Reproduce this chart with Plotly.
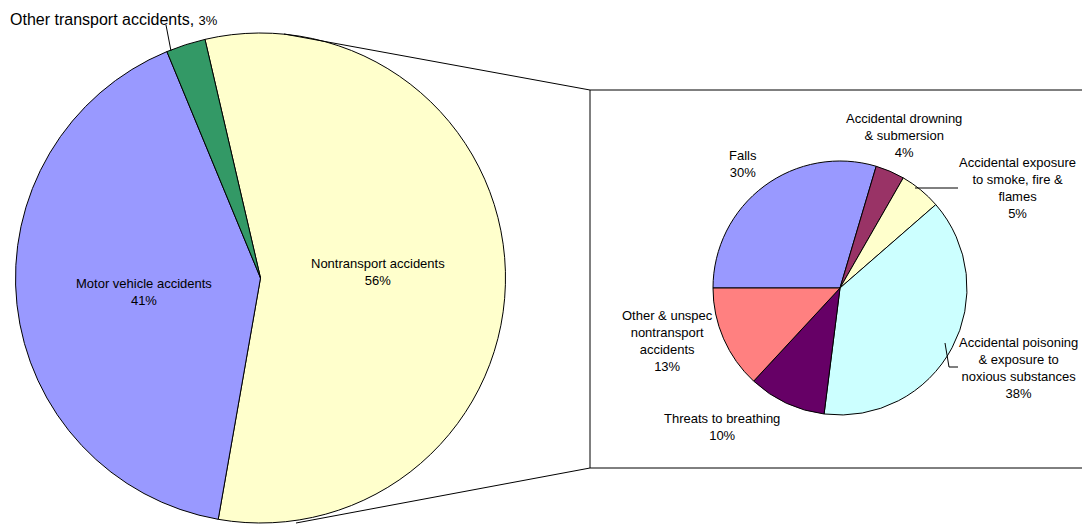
import plotly.graph_objects as go

# page body adds an 8px margin; the figure is sized so that it fills the window exactly
OFF = 8
W, H = 1090 - OFF, 525 - OFF

# ---- Data ----
main_labels = ["Nontransport accidents", "Motor vehicle accidents", "Other transport accidents"]
main_values = [56.4, 41.0, 2.6]
main_colors = ["#FFFFCC", "#9999FF", "#339966"]

sub_labels = ["Falls", "Accidental drowning & submersion", "Accidental exposure to smoke, fire & flames",
              "Accidental poisoning & exposure to noxious substances", "Threats to breathing",
              "Other & unspec nontransport accidents"]
sub_label_lines = [["Falls"], ["Accidental drowning", "& submersion"],
                   ["Accidental exposure", "to smoke, fire &", "flames"],
                   ["Accidental poisoning", "& exposure to", "noxious substances"],
                   ["Threats to breathing"], ["Other & unspec", "nontransport", "accidents"]]
sub_values = [29.6, 3.7, 5.3, 38.4, 9.9, 13.1]
sub_colors = ["#9999FF", "#993366", "#FFFFCC", "#CCFFFF", "#660066", "#FF8080"]


def px(x):
    return (x - OFF) / W


def py(y):
    return 1 - (y - OFF) / H


def pct(vals):
    s = sum(vals)
    return [f"{round(v / s * 100):.0f}%" for v in vals]


main_pct = pct(main_values)
sub_pct = pct(sub_values)

fig = go.Figure()
fig.add_trace(go.Pie(
    labels=main_labels, values=main_values, sort=False, direction="clockwise",
    rotation=-13.1, textinfo="none", hoverinfo="label+percent",
    marker=dict(colors=main_colors, line=dict(color="#000000", width=1)),
    domain=dict(x=[px(15.5), px(505.5)], y=[py(523), py(33)]),
    showlegend=False,
))
fig.add_trace(go.Pie(
    labels=sub_labels, values=sub_values, sort=False, direction="clockwise",
    rotation=270, textinfo="none", hoverinfo="label+percent",
    marker=dict(colors=sub_colors, line=dict(color="#000000", width=1)),
    domain=dict(x=[px(713), px(967)], y=[py(415), py(161)]),
    showlegend=False,
))

FAMILY = "Liberation Sans, Arial, sans-serif"
FONT = dict(family=FAMILY, size=13, color="#000000")
ann = []


def label(x, y, text, **kw):
    d = dict(x=px(x), y=py(y), xref="paper", yref="paper", text=text, showarrow=False,
             xanchor="center", yanchor="middle", font=FONT, align="center")
    d.update(kw)
    ann.append(d)


# main pie labels
label(378, 272, main_labels[0] + "<br>" + main_pct[0])
label(144, 292, main_labels[1] + "<br>" + main_pct[1])
label(8, 20, f"{main_labels[2]}, <span style='font-size:13px'>{main_pct[2]}</span>",
      xanchor="left", font=dict(family=FAMILY, size=16, color="#000000"))

# sub pie labels
sub_pos = [(743, 164), (904, 136), (1017, 188), (1018, 368), (722, 427), (667, 341)]
for (x, y), lines, p in zip(sub_pos, sub_label_lines, sub_pct):
    label(x, y, "<br>".join(lines + [p]))

fig.update_layout(annotations=ann)

LINE = dict(color="#000000", width=1)
shapes = [
    # box
    dict(type="rect", x0=px(590), x1=px(1100), y0=py(90), y1=py(468), line=LINE),
    # connectors
    dict(type="line", x0=px(284), y0=py(34), x1=px(590), y1=py(90), line=LINE),
    dict(type="line", x0=px(296), y0=py(523), x1=px(590), y1=py(468), line=LINE),
    # leader lines
    dict(type="line", x0=px(166), y0=py(25), x1=px(171), y1=py(51), line=LINE),
    dict(type="line", x0=px(915), y0=py(188), x1=px(958), y1=py(188), line=LINE),
    dict(type="path", path=f"M {px(945)} {py(343)} L {px(949)} {py(367)} L {px(958)} {py(367)}",
         line=LINE),
]
for s in shapes:
    s.setdefault("xref", "paper")
    s.setdefault("yref", "paper")
fig.update_layout(shapes=shapes)

fig.update_layout(
    width=W, height=H, margin=dict(l=0, r=0, t=0, b=0),
    paper_bgcolor="#FFFFFF", plot_bgcolor="#FFFFFF",
    font=FONT,
)

fig.write_html("out.html")
